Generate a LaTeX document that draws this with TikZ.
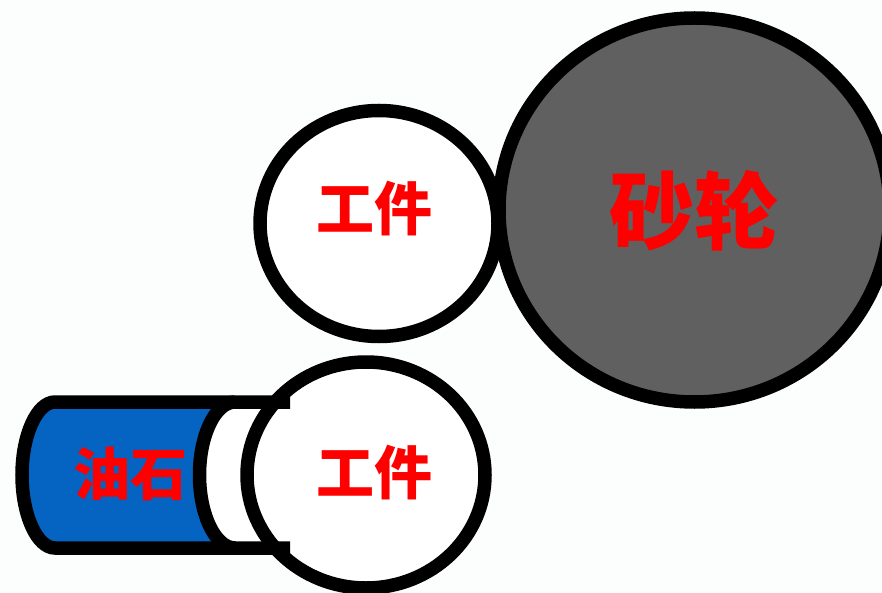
\documentclass[tikz,border=0pt]{standalone}
\usepackage{fontspec}
\usetikzlibrary{shapes.geometric}
\newfontfamily\cjkb{Noto Sans CJK SC Black}
\definecolor{pagebg}{HTML}{FCFEFD}
\definecolor{stoneblue}{HTML}{0563C1}
\definecolor{wheelgray}{HTML}{606060}
\tikzset{
  ring/.style={draw=black,line width=13.5pt},
  lbl/.style={text=red,inner sep=0pt,font=\cjkb\fontsize{#1}{#1}\selectfont},
}
\begin{document}
\begin{tikzpicture}[x=1pt,y=-1pt]
\useasboundingbox (0,0) rectangle (882,593);
\clip (0,0) rectangle (882,593);
\fill[pagebg] (0,0) rectangle (882,593);
% stone body
\fill[stoneblue] (55,402) .. controls (37,402) and (22,435) .. (22,475) .. controls (22,515) and (37,548) .. (55,548) -- (235,548) .. controls (215.5,548) and (199.5,515) .. (199.5,475) .. controls (199.5,435) and (215.5,402) .. (235,402) -- cycle;
\fill[white] (235,402) .. controls (215.5,402) and (199.5,435) .. (199.5,475) .. controls (199.5,515) and (215.5,548) .. (235,548) -- (290,548) -- (290,402) -- cycle;
% workpieces and wheel
\draw[ring,fill=white] (379,223.5) ellipse [x radius=119,y radius=113];
\draw[ring,fill=wheelgray] (694.5,210) ellipse [x radius=195.5,y radius=192];
\draw[ring,fill=white] (366,475) ellipse [x radius=119,y radius=113];
% stone outline
\draw[ring] (290,402) -- (55,402) .. controls (37,402) and (22,435) .. (22,475) .. controls (22,515) and (37,548) .. (55,548) -- (290,548);
\draw[ring] (235,402) .. controls (215.5,402) and (199.5,435) .. (199.5,475) .. controls (199.5,515) and (215.5,548) .. (235,548);
% labels
\node[lbl=58] (wp1) at (374,209) {工件};
\node[lbl=58] (wp2) at (374,473) {工件};
\node[lbl=85] (wheel) at (694,211) {砂轮};
\node[lbl=57] (stone) at (130,474) {油石};
\end{tikzpicture}
\end{document}
